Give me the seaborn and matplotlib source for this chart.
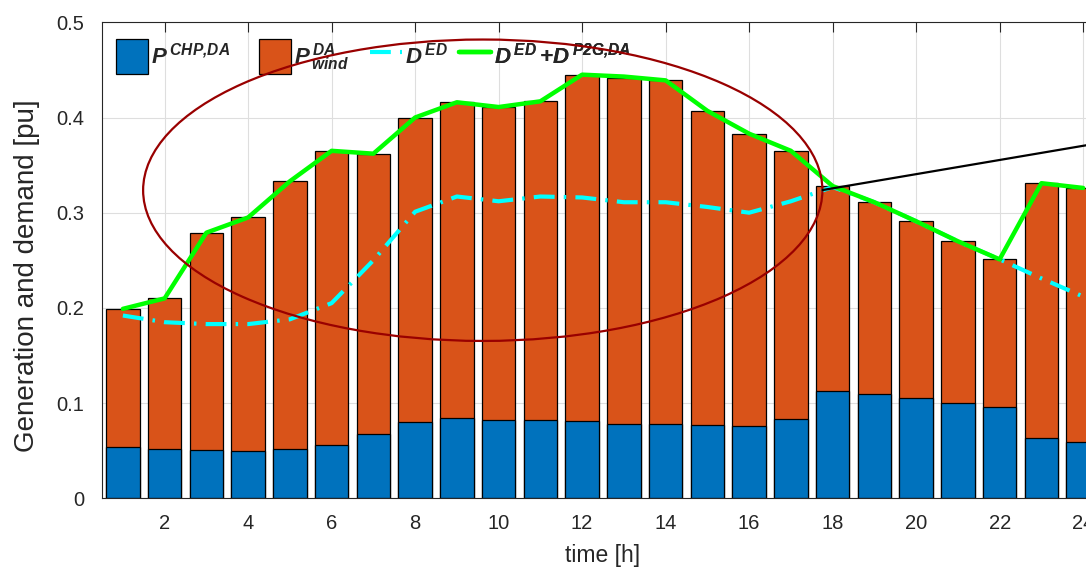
import numpy as np
import pandas as pd
import matplotlib
matplotlib.use("Agg")
import matplotlib.pyplot as plt
from matplotlib.patches import Ellipse, Patch
from matplotlib.lines import Line2D
import seaborn as sns

# ---- data -------------------------------------------------------------
hours = list(range(1, 25))

p_chp_da = [0.054, 0.052, 0.051, 0.050, 0.052, 0.056, 0.068, 0.080,
            0.084, 0.082, 0.082, 0.081, 0.078, 0.078, 0.077, 0.076,
            0.083, 0.113, 0.110, 0.105, 0.100, 0.096, 0.063, 0.059]

p_wind_da = [0.145, 0.158, 0.228, 0.245, 0.281, 0.309, 0.294, 0.320,
             0.332, 0.329, 0.335, 0.364, 0.364, 0.361, 0.330, 0.307,
             0.282, 0.215, 0.201, 0.186, 0.170, 0.155, 0.268, 0.267]

d_ed = [0.192, 0.185, 0.183, 0.183, 0.188, 0.205, 0.250, 0.301,
        0.317, 0.312, 0.317, 0.316, 0.311, 0.311, 0.306, 0.300,
        0.312, 0.327, 0.311, 0.291, 0.270, 0.251, 0.231, 0.212]

d_ed_p2g = [0.199, 0.210, 0.279, 0.295, 0.333, 0.365, 0.362, 0.400,
            0.416, 0.411, 0.417, 0.445, 0.443, 0.439, 0.407, 0.383,
            0.365, 0.328, 0.311, 0.291, 0.270, 0.251, 0.331, 0.326]

x_ticks = list(range(2, 25, 2))
y_ticks = [0, 0.1, 0.2, 0.3, 0.4, 0.5]
y_tick_labels = ["0", "0.1", "0.2", "0.3", "0.4", "0.5"]

legend_labels = [r"$P^{\,CHP{,}DA}$", r"$P^{\,DA}_{\,wind}$", r"$D^{\,ED}$",
                 r"$D^{\,ED}\,{+}D^{\,P2G{,}DA}$"]

# highlighted region and pointer line
ell_center = (9.62, 0.3236)
ell_width, ell_height = 16.27, 0.3166
pointer_x = [17.76, 24.5]
pointer_y = [0.3238, 0.3740]

df = pd.DataFrame({
    "hour": hours,
    "chp": p_chp_da,
    "total": np.array(p_chp_da) + np.array(p_wind_da),
    "ded": d_ed,
    "ded_p2g": d_ed_p2g,
})

# ---- style ------------------------------------------------------------
sns.set_style("white")
plt.rcParams["font.family"] = ["Liberation Sans", "DejaVu Sans"]
plt.rcParams["mathtext.fontset"] = "custom"
plt.rcParams["mathtext.rm"] = "Liberation Sans:bold:italic"
plt.rcParams["mathtext.it"] = "Liberation Sans:bold:italic"
plt.rcParams["mathtext.bf"] = "Liberation Sans:bold:italic"

DARK = "#262626"
BLUE = "#0072BD"
ORANGE = "#D95319"
CYAN = "#00FFFF"
GREEN = "#00FF00"
DASHDOT = (0, (5, 2.2, 0.6, 2.2))

fig = plt.figure(figsize=(10.86, 5.68), dpi=100)
ax = fig.add_axes([102 / 1086, 69.7 / 568, 1002 / 1086, 476 / 568])

# stacked bars: full height in orange, CHP part in blue on top
sns.barplot(data=df, x="hour", y="total", native_scale=True, width=0.8,
            color=ORANGE, saturation=1, edgecolor="black", linewidth=0.9,
            ax=ax)
sns.barplot(data=df, x="hour", y="chp", native_scale=True, width=0.8,
            color=BLUE, saturation=1, edgecolor="black", linewidth=0.9,
            ax=ax)

sns.lineplot(data=df, x="hour", y="ded", color=CYAN, lw=3, ax=ax,
             zorder=4)
ax.lines[-1].set_linestyle(DASHDOT)
sns.lineplot(data=df, x="hour", y="ded_p2g", color=GREEN, lw=3.2,
             ax=ax, zorder=5)

ax.add_patch(Ellipse(ell_center, ell_width, ell_height, fill=False,
                     edgecolor="#990000", lw=1.6, zorder=6))
ax.plot(pointer_x, pointer_y, color="black", lw=1.6, zorder=7)

# ---- axes -------------------------------------------------------------
ax.set_xlim(0.5, 24.5)
ax.set_ylim(0, 0.5)
ax.set_xticks(x_ticks)
ax.set_xticklabels([str(t) for t in x_ticks])
ax.set_yticks(y_ticks)
ax.set_yticklabels(y_tick_labels)
ax.tick_params(direction="in", length=7, width=0.8, color=DARK,
               labelsize=14.5, labelcolor=DARK, top=True, right=True)
ax.tick_params(axis="x", pad=11)
ax.tick_params(axis="y", pad=13)
ax.grid(True, color="#dedede", lw=0.8)
ax.set_axisbelow(True)
for s in ax.spines.values():
    s.set_color(DARK)
    s.set_linewidth(0.8)

ax.set_xlabel("time [h]", fontsize=16.5, color=DARK, labelpad=8)
ax.set_ylabel("Generation and demand [pu]", fontsize=20, color=DARK)
ax.yaxis.set_label_coords(-0.062, 0.467)

# ---- legend: one entry per slot along the top -------------------------
handles = [
    Patch(facecolor=BLUE, edgecolor="black", lw=0.9),
    Patch(facecolor=ORANGE, edgecolor="black", lw=0.9),
    Line2D([], [], color=CYAN, lw=3, ls=DASHDOT),
    Line2D([], [], color=GREEN, lw=3.2),
]
slots = [0.014, 0.1567, 0.2675, 0.3563]
for h, lab, x0 in zip(handles, legend_labels, slots):
    leg = ax.legend([h], [lab], frameon=False, fontsize=16,
                    loc="upper left", bbox_to_anchor=(x0, 0.964),
                    borderaxespad=0, borderpad=0, handlelength=1.44,
                    handleheight=2.05, handletextpad=0.15)
    ax.add_artist(leg)

fig.savefig("out.png", dpi=100)
